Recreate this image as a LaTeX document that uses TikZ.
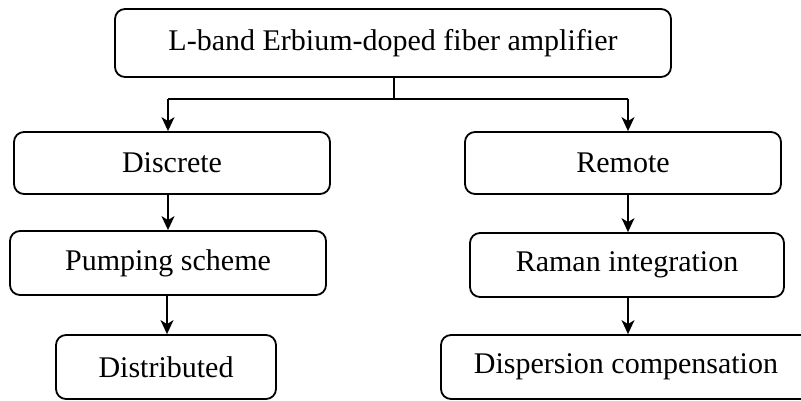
\documentclass[tikz,border=0pt]{standalone}
\usepackage{fontspec}
\setmainfont{Liberation Serif}
\usetikzlibrary{arrows.meta}
\begin{document}
\begin{tikzpicture}[x=1pt,y=-1pt,
  box/.style={draw, line width=1.8pt, rounded corners=10pt, inner sep=0pt,
              font=\fontsize{30}{36}\selectfont},
  link/.style={line width=1.6pt, -{Stealth[length=14pt,width=13pt,inset=4pt]}},
  plain/.style={line width=1.6pt}]
  \useasboundingbox (0,0) rectangle (801,401);
  \clip (0,0) rectangle (801,401);
  % boxes: (left,top) rectangle (right,bottom)
  \node[box, minimum width=556pt, minimum height=68pt] (top)  at (393,43)  {L-band Erbium-doped fiber amplifier};
  \node[box, minimum width=316pt, minimum height=62pt] (disc) at (172,163) {Discrete};
  \node[box, minimum width=316pt, minimum height=62pt] (rem)  at (623,163) {Remote};
  \node[box, minimum width=316pt, minimum height=64pt] (pump) at (168,263) {Pumping scheme};
  \node[box, minimum width=220pt, minimum height=64pt] (dist) at (166,367) {Distributed};
  \node[box, minimum width=314pt, minimum height=64pt] (ram)  at (627,265) {Raman integration};
  \node[box, minimum width=370pt, minimum height=64pt] (disp) at (626,367) {Dispersion compensation};
  % split below the root
  \coordinate (j) at (394,99);
  \coordinate (jl) at (168,99);
  \coordinate (jr) at (628,99);
  \draw[plain] (top.south -| j) -- (j);
  \draw[plain] (jl) -- (jr);
  \draw[link] (jl) -- (disc.north -| jl);
  \draw[link] (jr) -- (rem.north -| jr);
  % left column
  \draw[link] (disc.south -| pump.north) -- (pump.north);
  \draw[link] (pump.south -| dist.north) ++(1,0) -- (dist.north -| 167,0);
  % right column
  \draw[link] (rem.south -| jr) -- (ram.north -| jr);
  \draw[link] (ram.south -| jr) -- (disp.north -| jr);
\end{tikzpicture}
\end{document}
